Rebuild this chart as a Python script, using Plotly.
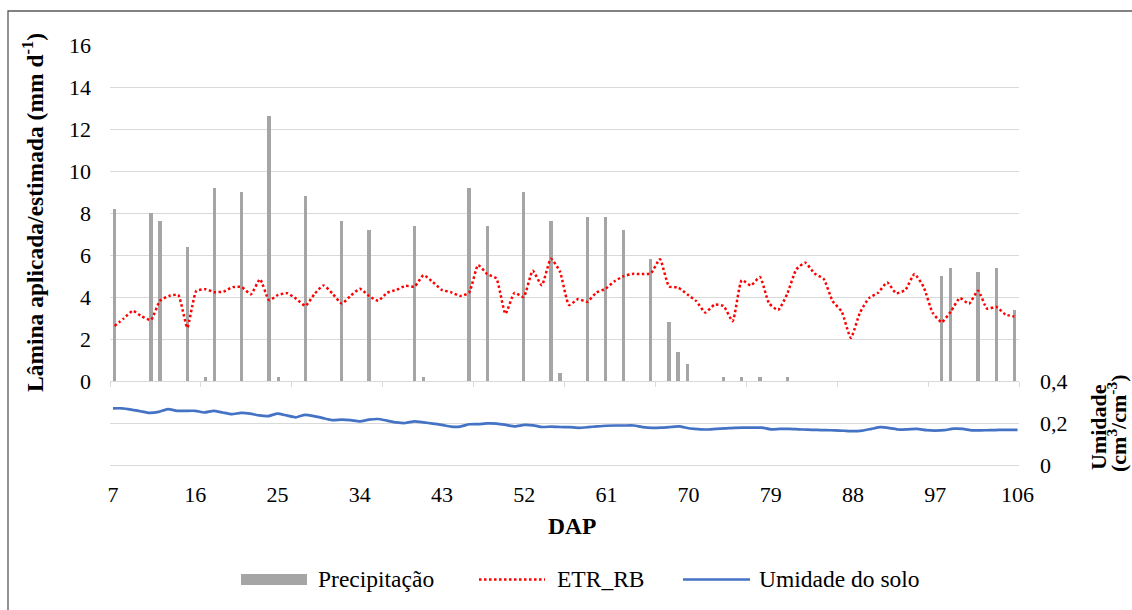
import plotly.graph_objects as go

# Days after planting (DAP)
dap = list(range(7, 107))

# Rainfall events (mm/day)
precip_dap = [7, 11, 12, 15, 17, 18, 21, 24, 25, 28,
              32, 35, 40, 41, 46, 48, 52, 55, 56, 59,
              61, 63, 66, 68, 69, 70, 74, 76, 78, 81,
              98, 99, 102, 104, 106]
precip_mm = [8.2, 8.0, 7.6, 6.4, 0.2, 9.2, 9.0, 12.6, 0.2, 8.8,
             7.6, 7.2, 7.4, 0.2, 9.2, 7.4, 9.0, 7.6, 0.4, 7.8,
             7.8, 7.2, 5.8, 2.8, 1.4, 0.8, 0.2, 0.2, 0.2, 0.2,
             5.0, 5.4, 5.2, 5.4, 3.4]

# Actual evapotranspiration, ETR_RB (mm/day), DAP 7..106
etr_rb = [2.62, 2.97, 3.34, 3.07, 2.91, 3.82, 4.05, 4.10, 2.54, 4.29,
          4.37, 4.23, 4.26, 4.47, 4.47, 4.13, 4.85, 3.85, 4.10, 4.18,
          3.91, 3.58, 4.15, 4.55, 4.15, 3.69, 4.07, 4.39, 4.05, 3.82,
          4.21, 4.34, 4.53, 4.50, 5.04, 4.72, 4.34, 4.23, 4.05, 4.21,
          5.52, 5.09, 4.88, 3.20, 4.20, 4.00, 5.25, 4.56, 5.82, 5.21,
          3.62, 3.90, 3.77, 4.21, 4.39, 4.75, 4.99, 5.10, 5.09, 5.13,
          5.80, 4.50, 4.45, 4.13, 3.80, 3.26, 3.64, 3.57, 2.85, 4.80,
          4.55, 4.95, 3.70, 3.38, 4.15, 5.31, 5.63, 5.12, 4.87, 3.80,
          3.30, 2.05, 3.25, 3.95, 4.20, 4.69, 4.18, 4.34, 5.09, 4.48,
          3.25, 2.80, 3.31, 3.95, 3.68, 4.30, 3.44, 3.53, 3.17, 3.07]

# Soil moisture (cm3/cm3), DAP 7..106
umidade = [0.270, 0.270, 0.264, 0.256, 0.248, 0.253, 0.266, 0.258, 0.258, 0.258,
           0.250, 0.258, 0.250, 0.242, 0.248, 0.245, 0.236, 0.233, 0.245, 0.236,
           0.227, 0.239, 0.233, 0.223, 0.214, 0.216, 0.214, 0.208, 0.216, 0.219,
           0.211, 0.203, 0.200, 0.208, 0.203, 0.197, 0.191, 0.183, 0.183, 0.194,
           0.195, 0.198, 0.197, 0.191, 0.184, 0.191, 0.189, 0.181, 0.183, 0.181,
           0.180, 0.177, 0.180, 0.184, 0.187, 0.188, 0.188, 0.188, 0.180, 0.177,
           0.178, 0.181, 0.184, 0.175, 0.171, 0.169, 0.172, 0.174, 0.177, 0.178,
           0.178, 0.178, 0.170, 0.172, 0.172, 0.170, 0.168, 0.167, 0.166, 0.165,
           0.163, 0.161, 0.164, 0.172, 0.180, 0.176, 0.169, 0.170, 0.172, 0.166,
           0.164, 0.166, 0.173, 0.172, 0.165, 0.165, 0.166, 0.167, 0.167, 0.167]

dap_ticks = list(range(7, 107, 9))
lamina_ticks = list(range(0, 17, 2))
umid_ticks = [0, 0.2, 0.4]
umid_ticktext = ["0", "0,2", "0,4"]

FONT = "'Liberation Serif', 'Times New Roman', Tinos, serif"
GRID = "#D9D9D9"
C_BAR = "#A5A5A5"
C_ETR = "#FF0000"
C_UMI = "#4472C4"
DOT = "2.5px,2.5px"

W, H = 1132, 610
ML, MR, MT, MB = 110, 113, 45, 145
PW, PH = W - ML - MR, H - MT - MB


def px(xp):
    return (xp - ML) / PW


def py(yp):
    return (H - MB - yp) / PH


fig = go.Figure()

fig.add_trace(go.Bar(
    x=precip_dap, y=precip_mm, name="Precipitação", width=0.36,
    marker=dict(color=C_BAR, line=dict(width=0)),
    xaxis="x", yaxis="y", showlegend=False,
))
fig.add_trace(go.Scatter(
    x=dap, y=etr_rb, name="ETR_RB", mode="lines",
    line=dict(color=C_ETR, width=2.5, dash=DOT, shape="spline", smoothing=0.5),
    xaxis="x", yaxis="y", showlegend=False,
))
fig.add_trace(go.Scatter(
    x=dap, y=umidade, name="Umidade do solo", mode="lines",
    line=dict(color=C_UMI, width=2.7, shape="spline", smoothing=0.5),
    xaxis="x2", yaxis="y2", showlegend=False,
))

tick_font = dict(family=FONT, size=22, color="#000000")

fig.update_layout(
    width=W, height=H,
    margin=dict(l=ML, r=MR, t=MT, b=MB, pad=0),
    paper_bgcolor="white", plot_bgcolor="white",
    font=dict(family=FONT, size=22, color="#000000"),
    bargap=0,
    xaxis=dict(
        domain=[0, 1], anchor="y", range=[6.5, 106.5],
        tickvals=[6.5 + 10 * i for i in range(11)], showticklabels=False,
        ticks="outside", ticklen=5, tickwidth=1, tickcolor=GRID,
        showline=True, linecolor=GRID, linewidth=1,
        showgrid=False, zeroline=False,
    ),
    yaxis=dict(
        domain=[0.2, 1], anchor="x", range=[0, 16],
        tickvals=lamina_ticks, ticks="", ticklabelstandoff=18,
        tickfont=tick_font,
        showgrid=True, gridcolor=GRID, gridwidth=1,
        zeroline=False, showline=False,
    ),
    xaxis2=dict(
        domain=[0, 1], anchor="y2", range=[6.67, 106.16],
        tickvals=dap_ticks, ticks="", ticklabelstandoff=14,
        tickfont=tick_font,
        showgrid=False, zeroline=False, showline=False,
    ),
    yaxis2=dict(
        domain=[0, 0.2], anchor="x2", side="right", range=[0, 0.4],
        tickvals=umid_ticks, ticktext=umid_ticktext, ticks="",
        ticklabelstandoff=20, tickfont=tick_font,
        showgrid=True, gridcolor=GRID, gridwidth=1,
        zeroline=True, zerolinecolor=GRID, zerolinewidth=1, showline=False,
    ),
)

annotations = [
    dict(text="<b>Lâmina aplicada/estimada (mm d<sup>-1</sup>)</b>",
         x=px(33), y=py(213), textangle=-90, size=23.5),
    dict(text="<b>Umidade</b>", x=px(1098), y=py(427), textangle=-90,
         size=22),
    dict(text="<b>(cm<sup>3</sup>/cm<sup>-3</sup>)</b>", x=px(1117), y=py(424),
         textangle=-90, size=22),
    dict(text="<b>DAP</b>", x=px(572), y=py(526), size=23.5),
    dict(text="Precipitação", x=px(316), y=py(579), xanchor="left", size=23.5),
    dict(text="ETR_RB", x=px(555), y=py(579), xanchor="left", size=23.5),
    dict(text="Umidade do solo", x=px(757), y=py(579), xanchor="left",
         size=23.5),
]
for a in annotations:
    a.setdefault("xanchor", "center")
    size = a.pop("size")
    a.update(xref="paper", yref="paper", yanchor="middle", showarrow=False,
             font=dict(family=FONT, size=size, color="#000000"))
fig.update_layout(annotations=annotations)

shapes = [
    # chart frame
    dict(type="rect", x0=px(8), y0=py(640), x1=px(1160), y1=py(11),
         line=dict(color="#595959", width=1.3), fillcolor="rgba(0,0,0,0)"),
    # legend keys
    dict(type="rect", x0=px(241), y0=py(585), x1=px(307), y1=py(574),
         line=dict(width=0), fillcolor=C_BAR),
    dict(type="line", x0=px(479), y0=py(579.5), x1=px(545), y1=py(579.5),
         line=dict(color=C_ETR, width=2.5, dash=DOT)),
    dict(type="line", x0=px(683), y0=py(579.5), x1=px(750), y1=py(579.5),
         line=dict(color=C_UMI, width=2.7)),
]
for s in shapes:
    s.update(xref="paper", yref="paper", layer="above")
fig.update_layout(shapes=shapes)

fig.write_html("out.html")
